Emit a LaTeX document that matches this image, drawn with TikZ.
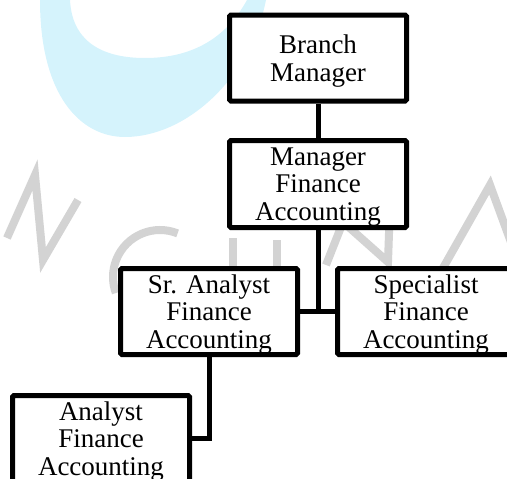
\documentclass[tikz,border=0pt]{standalone}
\usepackage{fontspec}
\setmainfont{Liberation Serif}
\definecolor{wmcyan}{RGB}{213,243,252}
\definecolor{wmgray}{RGB}{211,211,211}
\begin{document}
\begin{tikzpicture}[x=1pt,y=-1pt,
  box/.style={draw=black, line width=5pt, fill=white, rounded corners=1.5pt,
    minimum width=177pt, minimum height=86pt, align=center, inner sep=0pt,
    text depth=0pt, font=\fontsize{27}{27.5}\selectfont},
  link/.style={draw=black, line width=5pt},
  wm/.style={draw=wmgray, line width=8pt}]
\useasboundingbox (0,0) rectangle (507,479);
% watermark
\fill[wmcyan] (40,0) .. controls (40,95) and (80,137) .. (125,137)
  .. controls (185,137) and (250,80) .. (266,0) -- (247,0)
  .. controls (225,40) and (190,58) .. (145,58)
  .. controls (100,58) and (72,40) .. (70,0) -- cycle;
\draw[wm] (7,238) -- (35,175) -- (43,260) -- (78,200);
\draw[wm] (160,277) ++(-68:47) arc[start angle=-68, end angle=-200, radius=47];
\draw[wm] (233,238) -- (233,275);
\draw[wm] (277,240) -- (277,275);
\draw[wm] (326,265) -- (343,222) -- (388,262) -- (390,205);
\draw[wm] (443,268) -- (490,185) -- (512,245);
% boxes
\node[box] (bm) at (318,58) {Branch\\Manager};
\node[box, minimum height=87pt] (mfa) at (318,184) {Manager\\Finance\\Accounting};
\node[box] (sa) at (209,311.5) {Sr. Analyst\\Finance\\Accounting};
\node[box] (sp) at (426,311.5) {Specialist\\Finance\\Accounting};
\node[box] (an) at (101,438.5) {Analyst\\Finance\\Accounting};
% connectors
\draw[link] (bm.south) -- (mfa.north);
\draw[link] (sa.east) -- (sp.west);
\draw[link] (mfa.south) -- (mfa.south |- sa.east);
\draw[link] (sa.south) |- (an.east);
\end{tikzpicture}
\end{document}
